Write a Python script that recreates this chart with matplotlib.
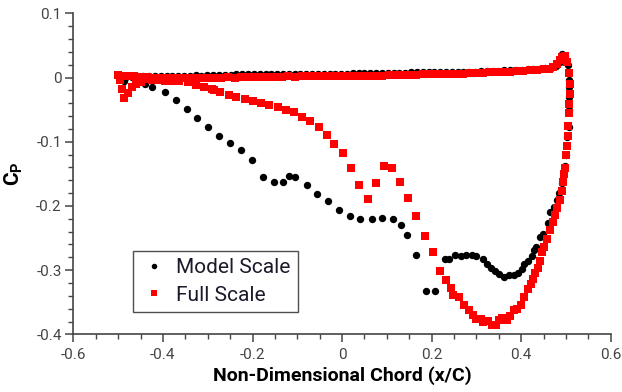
import matplotlib
matplotlib.use("Agg")
import matplotlib.pyplot as plt
from matplotlib.ticker import MultipleLocator, FuncFormatter

plt.rcParams['font.family'] = ['Roboto', 'DejaVu Sans']
plt.rcParams['mathtext.fontset'] = 'custom'
plt.rcParams['mathtext.rm'] = 'Roboto'
plt.rcParams['mathtext.bf'] = 'Roboto:bold'
plt.rcParams['axes.unicode_minus'] = False

# --- Model scale (black circles) ---
model_x_upper = [-0.495, -0.482, -0.470, -0.457, -0.444, -0.431, -0.418, -0.405, -0.392, -0.379,
                 -0.366, -0.353, -0.340, -0.327, -0.314, -0.301, -0.288, -0.275, -0.262, -0.249,
                 -0.236, -0.223, -0.210, -0.197, -0.184, -0.171, -0.158, -0.145, -0.132, -0.119,
                 -0.106, -0.093, -0.080, -0.067, -0.054, -0.041, -0.028, -0.015, -0.002, 0.011,
                 0.024, 0.037, 0.050, 0.063, 0.076, 0.089, 0.102, 0.115, 0.128, 0.141,
                 0.154, 0.167, 0.180, 0.193, 0.206, 0.219, 0.232, 0.245, 0.258, 0.271,
                 0.284, 0.297, 0.310, 0.323, 0.336, 0.349, 0.362, 0.375, 0.388, 0.401,
                 0.414, 0.427, 0.440, 0.453, 0.466, 0.478]
model_cp_upper = [0.002, 0.001, 0.001, 0.002, 0.002, 0.002, 0.003, 0.003, 0.003, 0.003,
                  0.003, 0.003, 0.003, 0.004, 0.003, 0.004, 0.004, 0.004, 0.004, 0.004,
                  0.005, 0.005, 0.005, 0.005, 0.005, 0.006, 0.005, 0.006, 0.006, 0.006,
                  0.006, 0.006, 0.005, 0.006, 0.006, 0.006, 0.006, 0.006, 0.006, 0.006,
                  0.007, 0.007, 0.007, 0.007, 0.007, 0.007, 0.007, 0.007, 0.007, 0.007,
                  0.008, 0.008, 0.008, 0.008, 0.008, 0.008, 0.008, 0.009, 0.009, 0.009,
                  0.009, 0.009, 0.010, 0.010, 0.010, 0.010, 0.011, 0.011, 0.012, 0.012,
                  0.013, 0.013, 0.014, 0.015, 0.015, 0.018]

model_x_lower = [-0.488, -0.440, -0.424, -0.396, -0.370, -0.347, -0.324, -0.300, -0.275, -0.250,
                 -0.225, -0.201, -0.177, -0.153, -0.131, -0.118, -0.105, -0.079, -0.055, -0.031,
                 -0.007, 0.017, 0.041, 0.066, 0.090, 0.114, 0.131, 0.144, 0.164, 0.187,
                 0.207, 0.230, 0.239, 0.253, 0.265, 0.276, 0.289, 0.300, 0.314, 0.323,
                 0.333, 0.341, 0.351, 0.362, 0.372, 0.383, 0.393, 0.401, 0.407, 0.416,
                 0.423, 0.429, 0.434, 0.443, 0.449, 0.459, 0.465, 0.473, 0.479, 0.485,
                 0.491, 0.497, 0.501, 0.503, 0.506, 0.507, 0.507, 0.507, 0.507, 0.505,
                 0.498, 0.490, 0.486]
model_cp_lower = [-0.005, -0.010, -0.014, -0.023, -0.035, -0.049, -0.063, -0.077, -0.091, -0.102,
                  -0.113, -0.129, -0.155, -0.163, -0.162, -0.153, -0.155, -0.167, -0.181, -0.192,
                  -0.206, -0.216, -0.221, -0.221, -0.219, -0.221, -0.230, -0.245, -0.276, -0.332,
                  -0.332, -0.283, -0.282, -0.277, -0.278, -0.276, -0.276, -0.278, -0.283, -0.290,
                  -0.296, -0.301, -0.306, -0.310, -0.308, -0.308, -0.305, -0.298, -0.290, -0.285,
                  -0.278, -0.269, -0.264, -0.248, -0.243, -0.226, -0.210, -0.201, -0.190, -0.180,
                  -0.165, -0.137, -0.120, -0.093, -0.077, -0.051, -0.030, -0.014, -0.004, 0.020,
                  0.034, 0.037, 0.024]

# --- Full scale (red squares) ---
full_x_upper = [-0.500, -0.490, -0.478, -0.465, -0.450, -0.435, -0.420, -0.405, -0.390, -0.375,
                -0.360, -0.345, -0.330, -0.315, -0.300, -0.285, -0.270, -0.255, -0.240, -0.225,
                -0.210, -0.195, -0.180, -0.165, -0.150, -0.135, -0.120, -0.105, -0.090, -0.075,
                -0.060, -0.045, -0.030, -0.015, 0.000, 0.015, 0.030, 0.045, 0.060, 0.075,
                0.090, 0.105, 0.120, 0.135, 0.150, 0.165, 0.180, 0.195, 0.210, 0.225,
                0.240, 0.255, 0.270, 0.285, 0.300, 0.315, 0.330, 0.345, 0.360, 0.375,
                0.390, 0.405, 0.420, 0.435, 0.450, 0.462, 0.472, 0.480, 0.486, 0.491,
                0.497]
full_cp_upper = [0.004, 0.003, 0.002, 0.002, 0.001, 0.001, 0.000, 0.000, 0.000, 0.000,
                 -0.001, 0.000, 0.000, 0.000, 0.000, 0.000, 0.000, 0.001, 0.000, 0.001,
                 0.001, 0.001, 0.001, 0.001, 0.001, 0.001, 0.002, 0.001, 0.002, 0.002,
                 0.002, 0.002, 0.002, 0.002, 0.002, 0.003, 0.003, 0.003, 0.003, 0.003,
                 0.003, 0.004, 0.004, 0.004, 0.004, 0.004, 0.005, 0.005, 0.005, 0.005,
                 0.006, 0.006, 0.006, 0.007, 0.007, 0.007, 0.008, 0.008, 0.009, 0.009,
                 0.010, 0.010, 0.011, 0.012, 0.013, 0.014, 0.016, 0.021, 0.027, 0.032,
                 0.034]

full_x_lower = [-0.495, -0.491, -0.486, -0.478, -0.470, -0.461, -0.450, -0.440, -0.425, -0.410,
                -0.395, -0.380, -0.365, -0.345, -0.327, -0.308, -0.291, -0.285, -0.272, -0.253,
                -0.236, -0.217, -0.199, -0.180, -0.163, -0.144, -0.126, -0.108, -0.090, -0.071,
                -0.052, -0.034, -0.017, 0.002, 0.020, 0.038, 0.057, 0.076, 0.094, 0.112,
                0.130, 0.148, 0.166, 0.185, 0.204, 0.218, 0.233, 0.244, 0.248, 0.260,
                0.272, 0.283, 0.292, 0.299, 0.310, 0.314, 0.325, 0.334, 0.343, 0.350,
                0.357, 0.368, 0.374, 0.383, 0.390, 0.399, 0.407, 0.416, 0.422, 0.426,
                0.431, 0.437, 0.441, 0.447, 0.450, 0.458, 0.464, 0.470, 0.476, 0.480,
                0.486, 0.491, 0.494, 0.495, 0.498, 0.501, 0.503, 0.505, 0.505, 0.507,
                0.507, 0.508, 0.509, 0.507, 0.503]
full_cp_lower = [-0.004, -0.018, -0.032, -0.024, -0.015, -0.010, -0.007, -0.003, -0.004, -0.004,
                 -0.005, -0.005, -0.006, -0.007, -0.011, -0.015, -0.018, -0.019, -0.023, -0.027,
                 -0.030, -0.034, -0.037, -0.040, -0.043, -0.046, -0.050, -0.054, -0.061, -0.067,
                 -0.077, -0.089, -0.103, -0.118, -0.141, -0.168, -0.189, -0.165, -0.138, -0.141,
                 -0.163, -0.188, -0.216, -0.247, -0.272, -0.301, -0.315, -0.328, -0.339, -0.342,
                 -0.354, -0.362, -0.370, -0.376, -0.376, -0.380, -0.379, -0.385, -0.386, -0.378,
                 -0.375, -0.377, -0.371, -0.362, -0.360, -0.354, -0.342, -0.330, -0.321, -0.314,
                 -0.304, -0.296, -0.286, -0.272, -0.264, -0.252, -0.238, -0.225, -0.214, -0.203,
                 -0.191, -0.177, -0.163, -0.150, -0.141, -0.120, -0.106, -0.091, -0.076, -0.056,
                 -0.041, -0.025, -0.010, 0.007, 0.024]

fig = plt.figure(figsize=(6.22, 3.92), dpi=100)
ax = fig.add_axes([0.118, 0.147, 0.864, 0.819])

ax.plot(model_x_upper + model_x_lower, model_cp_upper + model_cp_lower, 'o', color='black',
        markersize=5.3, markeredgewidth=0, label='Model Scale')
ax.plot(full_x_upper + full_x_lower, full_cp_upper + full_cp_lower, 's', color='red',
        markersize=5.1, markeredgewidth=0, label='Full Scale')

ax.set_xlim(-0.6, 0.6)
ax.set_ylim(-0.4, 0.1)
ax.xaxis.set_major_locator(MultipleLocator(0.2))
ax.xaxis.set_minor_locator(MultipleLocator(0.05))
ax.yaxis.set_major_locator(MultipleLocator(0.1))
ax.yaxis.set_minor_locator(MultipleLocator(0.02))
fmt = FuncFormatter(lambda v, p: f"{v:g}" if abs(v) > 1e-9 else "0")
ax.xaxis.set_major_formatter(fmt)
ax.yaxis.set_major_formatter(fmt)

for side in ['top', 'right']:
    ax.spines[side].set_visible(False)
for side in ['left', 'bottom']:
    ax.spines[side].set_color('#444444')
    ax.spines[side].set_linewidth(1.2)

ax.tick_params(which='major', direction='out', length=5.8, width=1.1, color='#444444',
               labelsize=11, labelcolor='#444444')
ax.tick_params(which='minor', direction='out', length=3.6, width=1.0, color='#444444')
ax.tick_params(axis='x', pad=4)
ax.tick_params(axis='y', pad=2.5)

ax.set_xlabel('Non-Dimensional Chord (x/C)', fontsize=14, fontweight='bold', labelpad=3)
ax.set_ylabel(r'$\mathbf{C_P}$', fontsize=15, labelpad=8)

leg = ax.legend(loc='lower left', bbox_to_anchor=(0.1117, 0.0695), borderaxespad=0,
                fontsize=15, frameon=True, fancybox=False, handletextpad=0.4,
                handlelength=1.3, labelspacing=0.4, borderpad=0.35, markerscale=0.75)
leg.get_frame().set_edgecolor('#222222')
leg.get_frame().set_linewidth(1.0)
for t in leg.get_texts():
    t.set_color('#1a1a2a')

fig.savefig('out.png', dpi=100)
